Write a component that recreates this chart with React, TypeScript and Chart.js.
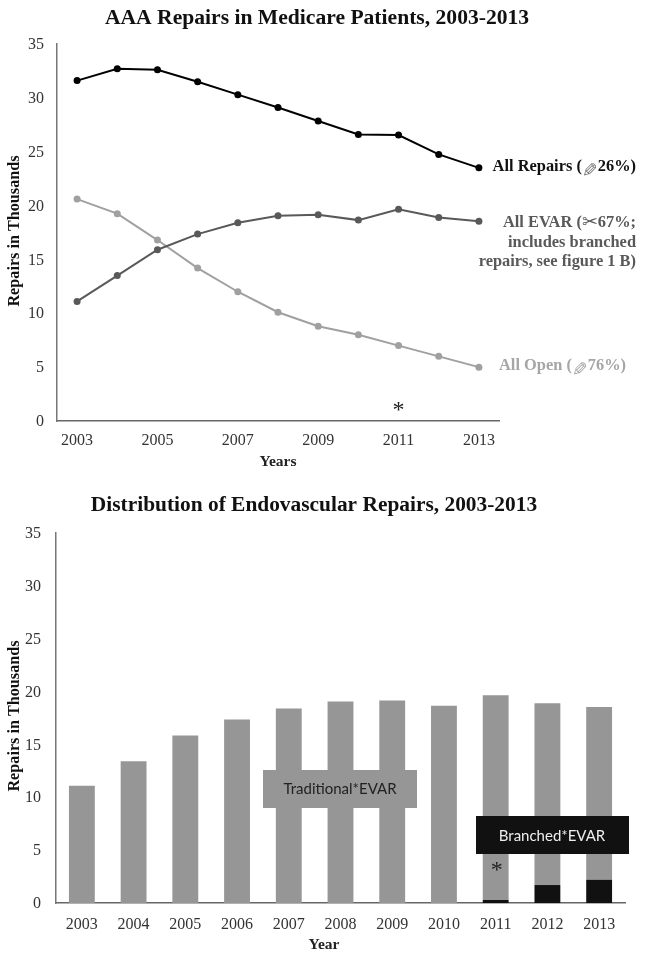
import React, { useEffect, useRef } from "react";
import { Chart, registerables } from "chart.js";

Chart.register(...registerables);

const years = ["2003", "2004", "2005", "2006", "2007", "2008", "2009", "2010", "2011", "2012", "2013"];
const lineTickYears = ["2003", "2005", "2007", "2009", "2011", "2013"];
const allRepairs = [31.6, 32.7, 32.6, 31.5, 30.3, 29.1, 27.85, 26.6, 26.55, 24.75, 23.5];
const allEvar = [11.1, 13.5, 15.9, 17.35, 18.4, 19.05, 19.15, 18.65, 19.65, 18.9, 18.55];
const allOpen = [20.6, 19.25, 16.8, 14.2, 12.0, 10.1, 8.8, 8.0, 7.0, 6.0, 5.0];
const branchedEvar = [0, 0, 0, 0, 0, 0, 0, 0, 0.3, 1.7, 2.2];
const traditionalEvar = [11.1, 13.4, 15.85, 17.35, 18.4, 19.05, 19.15, 18.65, 19.35, 17.2, 16.35];

const SERIF = '"Liberation Serif", serif';
const SANS = 'Lato, "Open Sans", sans-serif';
const ICON = '19px "DejaVu Sans"';

const fixedArea = (left: number, right: number, top: number, bottom: number) => ({
  id: "fixedArea",
  beforeLayout(chart: any) {
    chart.options.layout.padding = { left: 0, right: chart.width - right, top, bottom: chart.height - bottom };
    chart.options.scales.y.afterFit = (s: any) => { s.width = left; };
    chart.options.scales.x.afterFit = (s: any) => { s.height = 0; };
  },
});

const scaleOptions = () => ({
  x: {
    grid: { display: false, drawTicks: false, offset: true },
    offset: true,
    border: { color: "#666", width: 1.5 },
    ticks: { display: false },
  },
  y: {
    min: 0,
    max: 35,
    grid: { display: false, drawTicks: false },
    border: { color: "#777", width: 1.5 },
    ticks: { display: false, stepSize: 5 },
  },
});

function text(ctx: any, s: string, x: number, y: number, font: string, color: string, align: any = "center") {
  ctx.font = font;
  ctx.fillStyle = color;
  ctx.textAlign = align;
  ctx.textBaseline = "middle";
  ctx.fillText(s, x, y);
}

// right-aligned label with an icon glyph between two pieces of text
function iconLabel(ctx: any, a: string, icon: string, b: string, right: number, y: number, font: string, color: string, iconColor: string, flip: boolean) {
  ctx.font = font;
  const bw = ctx.measureText(b).width;
  ctx.font = ICON;
  const iw = ctx.measureText(icon).width;
  text(ctx, b, right, y, font, color, "right");
  text(ctx, a, right - bw - iw, y, font, color, "right");
  ctx.save();
  ctx.translate(right - bw - iw / 2, y);
  if (flip) ctx.rotate(Math.PI);
  text(ctx, icon, 0, 0, ICON, iconColor);
  ctx.restore();
}

function yAxisLabels(chart: any, tickRight: number) {
  const { ctx, scales } = chart;
  for (let v = 0; v <= 35; v += 5) {
    text(ctx, String(v), tickRight, scales.y.getPixelForValue(v) + 1, `16px ${SERIF}`, "#333", "right");
  }
}

const lineDecor = {
  id: "lineDecor",
  afterDraw(chart: any) {
    const { ctx, scales } = chart;
    const bold = `bold 16.4px ${SERIF}`;
    ctx.save();
    yAxisLabels(chart, 44);
    lineTickYears.forEach((y) => {
      text(ctx, y, scales.x.getPixelForValue(years.indexOf(y)), 441, `16px ${SERIF}`, "#333");
    });
    text(ctx, "Years", 278, 462, `bold 15.5px ${SERIF}`, "#222");
    ctx.save();
    ctx.translate(15, 231);
    ctx.rotate(-Math.PI / 2);
    text(ctx, "Repairs in Thousands", 0, 0, `bold 16.2px ${SERIF}`, "#111");
    ctx.restore();
    text(ctx, "AAA Repairs in Medicare Patients, 2003-2013", 317, 18, `bold 21.6px ${SERIF}`, "#111");
    iconLabel(ctx, "All Repairs (", "\u2710", "26%)", 636, 167, bold, "#111", "#777", true);
    iconLabel(ctx, "All EVAR (", "\u2702", "67%;", 636, 223, bold, "#595959", "#595959", false);
    text(ctx, "includes branched", 636, 243, bold, "#595959", "right");
    text(ctx, "repairs, see figure 1 B)", 636, 262, bold, "#595959", "right");
    iconLabel(ctx, "All Open (", "\u2710", "76%)", 626, 366, bold, "#a6a6a6", "#a6a6a6", true);
    text(ctx, "*", scales.x.getPixelForValue(8), 411, `24px ${SERIF}`, "#222");
    ctx.restore();
  },
};

const barDecor = {
  id: "barDecor",
  afterDraw(chart: any) {
    const { ctx, scales } = chart;
    ctx.save();
    yAxisLabels(chart, 41);
    years.forEach((y, i) => {
      text(ctx, y, scales.x.getPixelForValue(i), 445, `16px ${SERIF}`, "#333");
    });
    text(ctx, "Year", 324, 465, `bold 15.5px ${SERIF}`, "#222");
    ctx.save();
    ctx.translate(15, 236);
    ctx.rotate(-Math.PI / 2);
    text(ctx, "Repairs in Thousands", 0, 0, `bold 16.2px ${SERIF}`, "#111");
    ctx.restore();
    text(ctx, "Distribution of Endovascular Repairs, 2003-2013", 314, 25, `bold 21.4px ${SERIF}`, "#111");
    ctx.fillStyle = "#969696";
    ctx.fillRect(263, 290, 154, 38);
    text(ctx, "Traditional*EVAR", 340, 309, `15px ${SANS}`, "#222");
    ctx.fillStyle = "#111";
    ctx.fillRect(476, 336, 153, 38);
    text(ctx, "Branched*EVAR", 552, 356, `15px ${SANS}`, "#eee");
    text(ctx, "*", scales.x.getPixelForValue(8) + 1, 391, `24px ${SERIF}`, "#222");
    ctx.restore();
  },
};

export default function App() {
  const lineRef = useRef<HTMLCanvasElement>(null);
  const barRef = useRef<HTMLCanvasElement>(null);

  useEffect(() => {
    const series = (color: string, data: number[], label: string) => ({
      label,
      data,
      borderColor: color,
      backgroundColor: color,
      borderWidth: 2,
      pointRadius: 3.5,
      pointBorderWidth: 0,
      tension: 0,
    });
    const line = new Chart(lineRef.current!, {
      type: "line",
      data: {
        labels: years,
        datasets: [
          series("#000000", allRepairs, "All Repairs"),
          series("#595959", allEvar, "All EVAR"),
          series("#a0a0a0", allOpen, "All Open"),
        ],
      },
      options: {
        animation: false,
        responsive: false,
        plugins: { legend: { display: false }, tooltip: { enabled: false } },
        scales: scaleOptions() as any,
      },
      plugins: [fixedArea(57, 499, 44, 421), lineDecor],
    });
    const base = scaleOptions() as any;
    const bar = new Chart(barRef.current!, {
      type: "bar",
      data: {
        labels: years,
        datasets: [
          { label: "Branched EVAR", data: branchedEvar, backgroundColor: "#111111", stack: "s", categoryPercentage: 1, barPercentage: 0.5 },
          { label: "Traditional EVAR", data: traditionalEvar, backgroundColor: "#969696", stack: "s", categoryPercentage: 1, barPercentage: 0.5 },
        ],
      },
      options: {
        animation: false,
        responsive: false,
        plugins: { legend: { display: false }, tooltip: { enabled: false } },
        scales: {
          x: { ...base.x, stacked: true },
          y: { ...base.y, stacked: true },
        },
      },
      plugins: [fixedArea(56, 625, 53, 423), barDecor],
    });
    return () => {
      line.destroy();
      bar.destroy();
    };
  }, []);

  return (
    <div style={{ position: "absolute", left: 0, top: 0, width: 645, height: 959, background: "#fff", overflow: "hidden" }}>
      <canvas ref={lineRef} width={645} height={480} style={{ position: "absolute", left: 0, top: 0, width: 645, height: 480 }} />
      <canvas ref={barRef} width={645} height={479} style={{ position: "absolute", left: 0, top: 480, width: 645, height: 479 }} />
    </div>
  );
}
